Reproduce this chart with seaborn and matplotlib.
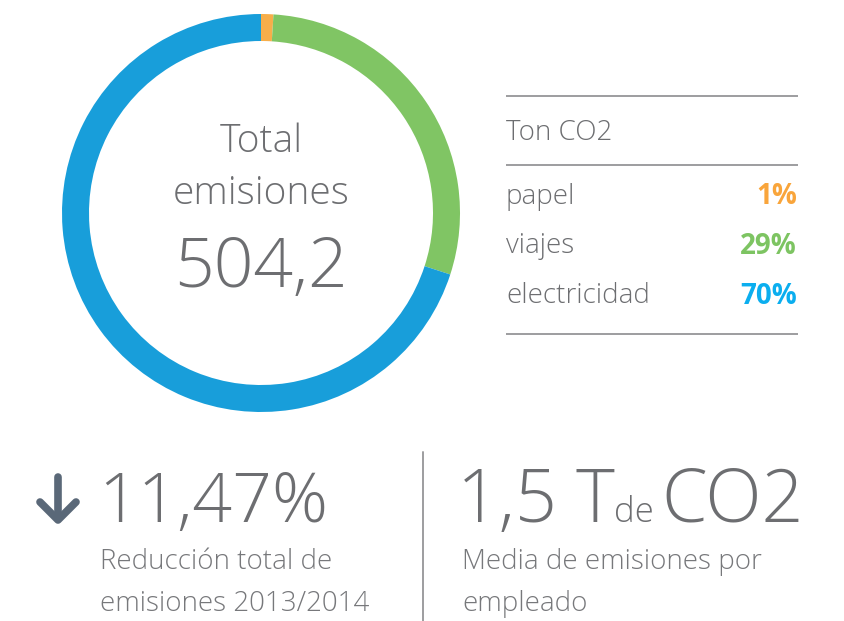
import matplotlib
matplotlib.use("Agg")
import matplotlib.pyplot as plt
import seaborn as sns

# ---- data ----
categories = ["papel", "viajes", "electricidad"]
shares = [1, 29, 70]
share_labels = ["1%", "29%", "70%"]
ring_colors = ["#F7AE4A", "#80C564", "#189EDA"]
label_colors = ["#F9A53B", "#7DC462", "#0BAEEF"]
total_lines = ["Total", "emisiones", "504,2"]
table_title = "Ton CO2"
kpi1_value = "11,47%"
kpi1_text = ["Reducción total de", "emisiones 2013/2014"]
kpi2_parts = ["1,5 T", "de", "CO2"]
kpi2_text = ["Media de emisiones por", "empleado"]

sns.set_theme(style="white")
plt.rcParams['font.family'] = ['Open Sans', 'DejaVu Sans']

W, H = 844, 621
fig = plt.figure(figsize=(W / 100, H / 100), dpi=100)
ax = fig.add_axes([0, 0, 1, 1])

def Y(y):
    return H - y

gray = "#6D6E71"
gray2 = "#77787B"
line_gray = "#9D9D9F"

# donut
ax.pie(shares, colors=ring_colors, startangle=90, counterclock=False,
       center=(261, Y(213)), radius=199, frame=True,
       wedgeprops=dict(width=27, edgecolor='none', linewidth=0))
ax.set_xlim(0, W)
ax.set_ylim(0, H)
ax.set_aspect('equal')
ax.axis('off')

ax.text(261, Y(142), total_lines[0], ha='center', va='center', fontsize=28,
        color=gray, fontweight='light')
ax.text(261, Y(194), total_lines[1], ha='center', va='center', fontsize=28,
        color=gray, fontweight='light')
ax.text(261, Y(269), total_lines[2], ha='center', va='center', fontsize=50,
        color=gray, fontweight='light')

# table
for yy in (96, 165, 334):
    ax.plot([506, 798], [Y(yy), Y(yy)], color=line_gray, lw=1.4,
            solid_capstyle='butt')
ax.text(506, Y(133), table_title, ha='left', va='center', fontsize=20,
        color=gray, fontweight='light')
row_y = [197, 246, 296]
for cat, lab, col, yy in zip(categories, share_labels, label_colors, row_y):
    ax.text(506, Y(yy), cat, ha='left', va='center', fontsize=20,
            color=gray, fontweight='light')
    ax.text(797, Y(yy), lab, ha='right', va='center', fontsize=20,
            color=col, fontweight='bold')

# arrow
arrow_col = "#5A6878"
ax.plot([58, 58], [Y(477), Y(519)], color=arrow_col, lw=5.5, solid_capstyle='round')
ax.plot([40, 58, 76], [Y(502), Y(520), Y(502)], color=arrow_col, lw=5.5,
        solid_capstyle='round', solid_joinstyle='round')

# KPI 1
ax.text(98, Y(522), kpi1_value, ha='left', va='baseline', fontsize=50,
        color=gray, fontweight='light')
ax.text(100, Y(562), kpi1_text[0], ha='left', va='center', fontsize=20,
        color=gray2, fontweight='light')
ax.text(100, Y(604), kpi1_text[1], ha='left', va='center', fontsize=20,
        color=gray2, fontweight='light')

# divider
ax.plot([423, 423], [Y(452), Y(621)], color=line_gray, lw=1.4)

# KPI 2
ax.text(457, Y(522), kpi2_parts[0], ha='left', va='baseline', fontsize=53,
        color=gray, fontweight='light')
ax.text(614, Y(522), kpi2_parts[1], ha='left', va='baseline', fontsize=25,
        color=gray, fontweight='light')
ax.text(661, Y(522), kpi2_parts[2], ha='left', va='baseline', fontsize=53,
        color=gray, fontweight='light')
ax.text(462, Y(562), kpi2_text[0], ha='left', va='center', fontsize=20,
        color=gray2, fontweight='light')
ax.text(462, Y(604), kpi2_text[1], ha='left', va='center', fontsize=20,
        color=gray2, fontweight='light')

fig.savefig("out.png", dpi=100, facecolor='white')
